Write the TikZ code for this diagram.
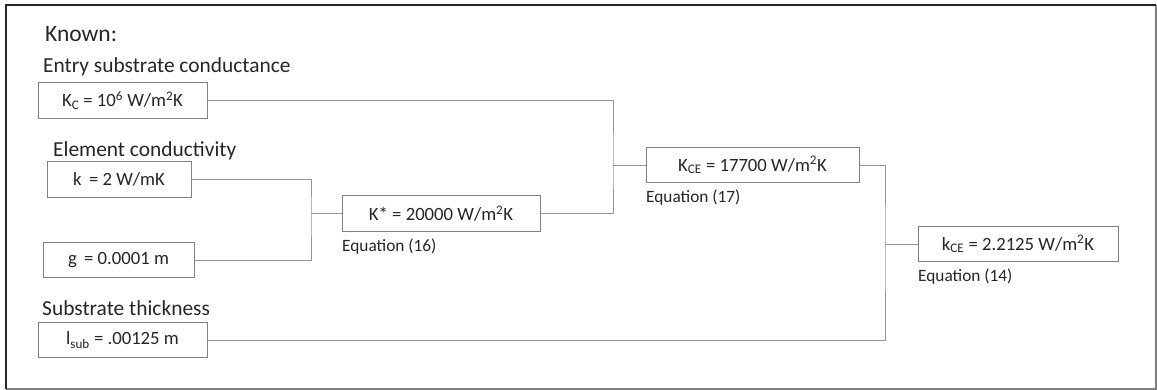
\documentclass[tikz,border=0pt]{standalone}
\usepackage{fontspec}
\setmainfont{Carlito}
\begin{document}
\begin{tikzpicture}[x=1pt,y=-1pt,
  txt/.style={text=black!85, font=\fontsize{18.7}{22}\selectfont},
  valbox/.style={txt, draw=black!50, line width=0.9pt, fill=white, inner sep=0pt,
    minimum height=35.5pt, anchor=center},
  lbl/.style={text=black!85, font=\fontsize{21.4}{24}\selectfont, anchor=base west, inner sep=0pt},
  eqn/.style={text=black!85, font=\fontsize{17.3}{20}\selectfont, anchor=base west, inner sep=0pt},
  wire/.style={draw=black!42, line width=0.9pt}]
\useasboundingbox (0,0) rectangle (1157,390);
% frame: dark top/left edges, light bottom/right edges
\draw[black!50, line width=1.2pt] (1156,5) -- (1156,389) -- (6,389);
\draw[black!85, line width=1.6pt] (6,389) -- (6,5) -- (1156,5);

% headings
\node[lbl, font=\fontsize{23.5}{26}\selectfont] (known) at (45,42) {Known:};
\node[lbl] (lblkc) at (43,73) {Entry substrate conductance};
\node[lbl] (lblk) at (53,157) {Element conductivity};
\node[lbl] (lbllsub) at (42,315) {Substrate thickness};

% input values
\node[valbox, minimum width=169pt] (kc) at (122.5,100.5) {K\textsubscript{C} = 10\textsuperscript{6} W/m\textsuperscript{2}K};
\node[valbox, minimum width=144pt] (k) at (119,179.5) {k\, = 2 W/mK};
\node[valbox, minimum width=151pt] (g) at (118.5,260) {g\, = 0.0001 m};
\node[valbox, minimum width=169pt] (lsub) at (122.5,340) {l\textsubscript{sub} = .00125 m};

% derived values
\node[valbox, minimum width=198pt] (kstar) at (441,213.5) {K* = 20000 W/m\textsuperscript{2}K};
\node[valbox, minimum width=213pt] (kce) at (752.5,165) {K\textsubscript{CE} = 17700 W/m\textsuperscript{2}K};
\node[valbox, minimum width=200pt] (kce2) at (1018,244) {k\textsubscript{CE} = 2.2125 W/m\textsuperscript{2}K};

% equation references
\node[eqn] (eq16) at (342,252) {Equation (16)};
\node[eqn] (eq17) at (646,203) {Equation (17)};
\node[eqn] (eq14) at (918,282) {Equation (14)};

% junction points
\coordinate (j1) at (311,213.5);
\coordinate (j2) at (613,165);
\coordinate (j3) at (885,244);

% connectors
\draw[wire] (k.east) -| (j1) |- (g.east);
\draw[wire] (j1) -- (kstar.west);
\draw[wire] (kc.east) -| (j2) |- (kstar.east);
\draw[wire] (j2) -- (kce.west);
\draw[wire] (kce.east) -| (j3) |- (lsub.east);
\draw[wire] (j3) -- (kce2.west);
\end{tikzpicture}
\end{document}
